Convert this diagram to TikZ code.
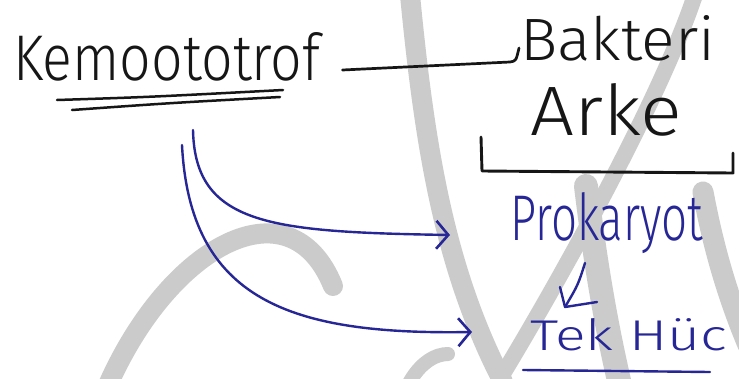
\documentclass[tikz,border=0pt]{standalone}
\usepackage{fontspec}
\setmainfont{Fira Sans}[UprightFont=* Light]
\usetikzlibrary{arrows.meta,calc}

\definecolor{ink}{RGB}{22,22,22}
\definecolor{pen}{RGB}{38,38,150}
\definecolor{mark}{RGB}{203,203,203}

\tikzset{
  word/.style={inner sep=0pt, anchor=base west},
  blackink/.style={draw=ink, line width=2.7pt, line cap=round, line join=round},
  blueink/.style={draw=pen, line width=2.4pt, line cap=round, line join=round},
  wm/.style={draw=mark, line width=#1, line cap=round},
  barb/.style={-{Straight Barb[length=12pt,width=28pt,line width=2.6pt]}}
}
% squeeze a handwritten word into a given width and height
\newcommand\hand[3]{\resizebox{#1pt}{#2pt}{#3}}

\begin{document}
\begin{tikzpicture}[x=1pt,y=-1pt]
\useasboundingbox (0,0) rectangle (739,378);
\fill[white] (0,0) rectangle (739,378);

% background watermark strokes
\draw[wm=20pt] (108,385) .. controls (170,245) and (290,180) .. (333,286);
\draw[wm=20pt] (410,-5) .. controls (425,150) and (445,270) .. (503,382);
\draw[wm=16pt] (695,-5) .. controls (660,100) and (560,280) .. (498,382);
\draw[wm=24pt] (586,186) .. controls (595,260) and (605,320) .. (620,385);
\draw[wm=21pt] (703,192) .. controls (712,240) and (725,290) .. (748,345);
\draw[wm=14pt] (408,385) .. controls (420,362) and (436,354) .. (448,354);

% words
\node[word, text=ink] (kem) at (13,80) {\hand{307}{48}{Kemoototrof}};
\node[word, text=ink] (bak) at (520,60) {\hand{195}{45}{Bakteri}};
\node[word, text=ink] (arke) at (530,135) {\hand{152}{52}{Arke}};
\node[word, text=pen] (prok) at (510,240) {\hand{193}{48}{Prokaryot}};
\node[word, text=pen] (tek) at (530,350) {\hand{197}{32}{Tek Hüc}};

% double underline
\draw[blackink, line width=2.5pt] (57,100) .. controls (150,97) .. (283,90);
\draw[blackink, line width=2.5pt] (72,110) .. controls (170,103) .. (280,97);

% link to Bakteri
\coordinate (k1) at ($(kem.base east)+(22,-10)$);
\coordinate (b1) at ($(bak.base west)+(-10,2)$);
\draw[blackink] (k1) -- (b1) .. controls +(6,-1) .. ($(bak.base west)+(-1,-12)$);

% bracket under Bakteri / Arke
\draw[blackink, line width=2.9pt] (481,137) -- (482,171) -- (733,173) -- (733,153);

% curved arrows
\coordinate (s1) at (193,130);
\coordinate (e1) at ($(prok.base west)+(-60,-5)$);
\draw[blueink, barb] (s1) .. controls (195,225) and (270,232) .. (e1);
\coordinate (s2) at (182,145);
\coordinate (e2) at ($(tek.base west)+(-58,-18)$);
\draw[blueink, barb] (s2) .. controls (190,300) and (290,335) .. (e2);

% small arrow Prokaryot -> Tek Hüc
\coordinate (a1) at ($(prok.base west)+(75,23)$);
\coordinate (a2) at ($(tek.base west)+(35,-43)$);
\draw[blueink] (a1) .. controls (578,285) .. (a2);
\draw[blueink] ($(a2)+(-5,-20)$) -- (a2) -- ($(a2)+(32,-5)$);

% underline of Tek Hüc
\draw[blueink] ($(tek.base west)+(-7,20)$) -- ($(tek.base west)+(180,22)$);
\end{tikzpicture}
\end{document}
